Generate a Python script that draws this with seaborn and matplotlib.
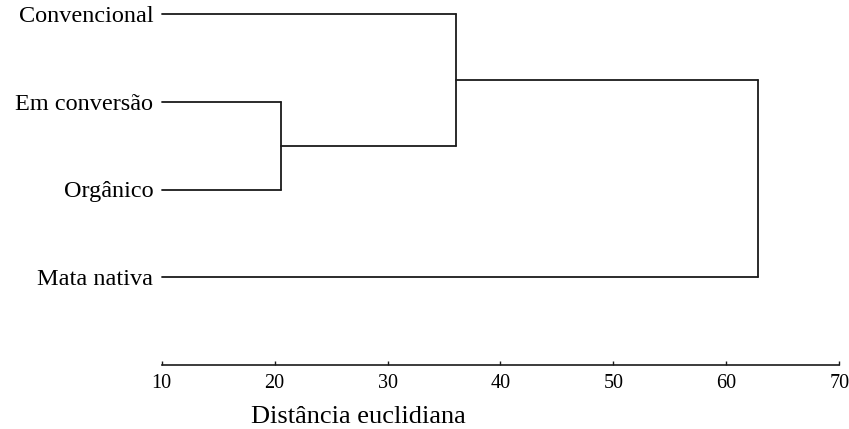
import matplotlib
matplotlib.use("Agg")
import matplotlib.pyplot as plt
import seaborn as sns
import pandas as pd

# ---- data ----
leaves = ["Convencional", "Em conversão", "Orgânico", "Mata nativa"]
# merges: (left cluster, right cluster, distance); clusters 0..3 are leaves, 4.. are new nodes
merge_left = [1, 0, 5]
merge_right = [2, 4, 3]
merge_height = [20.54, 36.07, 62.79]
x_ticks = [10, 20, 30, 40, 50, 60, 70]
x_label = "Distância euclidiana"

sns.set_theme(style="white")
plt.rcParams["font.family"] = ["Liberation Serif", "DejaVu Serif"]
plt.rcParams["text.color"] = "black"
plt.rcParams["xtick.color"] = "black"
plt.rcParams["ytick.color"] = "black"

W, H = 849, 429
fig = plt.figure(figsize=(W / 100, H / 100), dpi=100)
x0, x1 = 161.7, 839.3
ytop, ybot = 14.0, 365.0
ax = fig.add_axes([x0 / W, 1 - ybot / H, (x1 - x0) / W, (ybot - ytop) / H])

xmin, xmax = x_ticks[0], x_ticks[-1]

# build dendrogram segments
pos = {i: (float(xmin), float(i)) for i in range(len(leaves))}
rows = []
seg = 0
for k, (a, b, h) in enumerate(zip(merge_left, merge_right, merge_height)):
    xa, ya = pos[a]
    xb, yb = pos[b]
    for xs, ys in [((xa, h), (ya, ya)), ((h, h), (ya, yb)), ((xb, h), (yb, yb))]:
        for xv, yv in zip(xs, ys):
            rows.append({"x": xv, "y": yv, "seg": seg})
        seg += 1
    pos[len(leaves) + k] = (h, (ya + yb) / 2)
df = pd.DataFrame(rows)

sns.lineplot(data=df, x="x", y="y", units="seg", estimator=None, sort=False,
             color="#1a1a1a", linewidth=1.3, ax=ax, legend=False)
for ln in ax.lines:
    ln.set_clip_on(False)

ax.set_xlim(xmin, xmax)
ax.set_ylim(len(leaves), 0)
ax.set_xticks(x_ticks)
ax.set_xticklabels([str(t) for t in x_ticks], fontsize=14.5)
ax.set_yticks(range(len(leaves)))
ax.set_yticklabels(leaves, fontsize=17.5)
ax.tick_params(axis="x", direction="in", length=3, width=1, color="#1a1a1a", pad=6.5,
               bottom=True, labelcolor="black")
ax.tick_params(axis="y", length=0, pad=6, labelcolor="black")
ax.set_xlabel("")
ax.set_ylabel("")
for s in ["top", "right", "left"]:
    ax.spines[s].set_visible(False)
ax.spines["bottom"].set_color("#1a1a1a")
ax.spines["bottom"].set_linewidth(1.2)
ax.set_facecolor("white")
ax.grid(False)

fig.text(358 / W, 1 - 423 / H, x_label, ha="center", va="baseline", fontsize=19, color="black")

fig.savefig("out.png", dpi=100, facecolor="white")
